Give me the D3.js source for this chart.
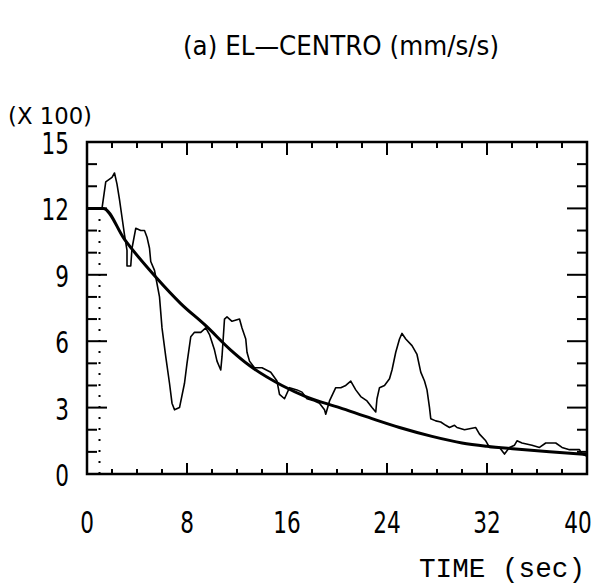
<!DOCTYPE html>
<html>
<head>
<meta charset="utf-8">
<script src="https://cdnjs.cloudflare.com/ajax/libs/d3/7.8.5/d3.min.js"></script>
<style>
body { margin: 0; background: #fff; }
</style>
</head>
<body>
<div id="chart"></div>
<script>
// data (x 100 mm/s/s vs time in sec)

// jagged response record
var respTime = [1.2, 1.5, 2.0, 2.2, 2.4, 2.6, 2.8, 3.0, 3.2, 3.2, 3.5, 3.6, 3.9, 4.3, 4.6, 4.8, 5.0, 5.1, 5.4, 5.5,
  5.8, 6.0, 6.3, 6.6, 6.8, 7.0, 7.4, 7.8, 8.0, 8.3, 8.6, 9.1, 9.5, 9.8, 10.2, 10.4, 10.7, 10.8, 11.0, 11.2,
  11.6, 12.2, 12.4, 12.7, 12.8, 13.0, 13.4, 14.0, 14.7, 15.2, 15.4, 15.8, 16.2, 16.8, 17.2, 17.6, 18.2, 18.6, 19.0, 19.1,
  19.4, 19.9, 20.3, 20.7, 21.1, 21.5, 21.9, 22.4, 22.8, 23.1, 23.2, 23.4, 23.8, 24.2, 24.4, 24.7, 25.0, 25.2, 25.5, 26.0,
  26.4, 26.7, 27.0, 27.2, 27.4, 27.5, 27.9, 28.3, 28.7, 29.0, 29.4, 29.6, 30.2, 31.1, 31.4, 31.9, 32.2, 33.0, 33.4, 33.8,
  34.2, 34.4, 34.8, 35.6, 36.2, 36.7, 37.5, 38.0, 38.6, 39.4, 39.6, 40.0];
var respVal = [12.0, 13.2, 13.4, 13.6, 13.1, 12.4, 11.6, 10.8, 10.1, 9.4, 9.4, 10.2, 11.1, 11.0, 11.0, 10.7, 10.2, 9.6, 9.2, 8.9,
  8.0, 6.6, 5.3, 4.1, 3.2, 2.9, 3.0, 4.1, 5.0, 6.2, 6.4, 6.4, 6.6, 6.3, 5.6, 5.1, 4.7, 5.3, 7.0, 7.1,
  6.9, 7.0, 6.6, 6.1, 5.5, 5.1, 4.8, 4.8, 4.6, 4.2, 3.6, 3.4, 3.9, 3.8, 3.7, 3.4, 3.3, 3.2, 2.9, 2.7,
  3.3, 3.9, 3.9, 4.0, 4.2, 3.8, 3.5, 3.3, 3.0, 2.8, 3.4, 3.9, 4.0, 4.3, 4.7, 5.5, 6.1, 6.35, 6.1, 5.8,
  5.4, 4.6, 4.2, 3.8, 3.0, 2.5, 2.4, 2.35, 2.2, 2.1, 2.2, 2.1, 2.0, 2.1, 1.8, 1.5, 1.2, 1.2, 0.9, 1.2,
  1.3, 1.5, 1.4, 1.3, 1.2, 1.4, 1.4, 1.2, 1.1, 1.1, 0.9, 0.8];

// smooth decay curve
var fitTime = [0, 1.3, 3.0, 5.5, 7.5, 9.5, 11.5, 13.0, 15.6, 17.5, 20.2, 22.8, 25.0, 27.6, 30.0, 32.0, 34.3, 37.0, 40.0];
var fitVal = [12.0, 12.0, 10.6, 8.9, 7.7, 6.7, 5.6, 4.9, 4.0, 3.5, 3.0, 2.5, 2.1, 1.7, 1.4, 1.25, 1.13, 1.0, 0.88];

// dotted rise at the start of the record
var riseTime = [1.0, 1.0];
var riseVal = [0, 12.0];

var xTicks = [0, 8, 16, 24, 32, 40];
var yTicks = [0, 3, 6, 9, 12, 15];

// layout
var W = 596, H = 586;
var LEFT = 87, RIGHT = 587, TOP = 142, BOTTOM = 474;
var NUMFONT = "'DejaVu Sans', sans-serif";

var x = d3.scaleLinear().domain([0, 40]).range([LEFT, RIGHT]);
var y = d3.scaleLinear().domain([0, 15]).range([BOTTOM, TOP]);

var svg = d3.select("#chart").append("svg")
  .attr("width", W)
  .attr("height", H)
  .style("display", "block")
  .style("background", "#fff");

// title
svg.append("text")
  .attr("x", 341)
  .attr("y", 55)
  .attr("text-anchor", "middle")
  .attr("textLength", 316)
  .attr("lengthAdjust", "spacingAndGlyphs")
  .style("font-family", NUMFONT)
  .style("font-size", "27px")
  .style("fill", "#000")
  .text("(a) EL\u2014CENTRO (mm/s/s)");

// y multiplier
svg.append("text")
  .attr("x", 8)
  .attr("y", 124)
  .attr("textLength", 84)
  .attr("lengthAdjust", "spacingAndGlyphs")
  .style("font-family", NUMFONT)
  .style("font-size", "23px")
  .text("(X 100)");

// frame
svg.append("rect")
  .attr("x", LEFT)
  .attr("y", TOP)
  .attr("width", RIGHT - LEFT)
  .attr("height", BOTTOM - TOP)
  .style("fill", "none")
  .style("stroke", "#000")
  .style("stroke-width", 2.5);

// tick marks, inside the frame on all four sides
var ticks = svg.append("g").style("stroke", "#000").style("stroke-width", 2);

d3.range(0, 41, 2).forEach(function(t){
  var major = (t % 8 == 0);
  ticks.append("line")
    .attr("x1", x(t)).attr("x2", x(t))
    .attr("y1", BOTTOM).attr("y2", BOTTOM - (major ? 11 : 5));
  ticks.append("line")
    .attr("x1", x(t)).attr("x2", x(t))
    .attr("y1", TOP).attr("y2", TOP + (major ? 13 : 6));
});

d3.range(0, 16, 1).forEach(function(v){
  var major = (v % 3 == 0);
  ticks.append("line")
    .attr("x1", LEFT).attr("x2", LEFT + (major ? 20 : 10))
    .attr("y1", y(v)).attr("y2", y(v));
  ticks.append("line")
    .attr("x1", RIGHT).attr("x2", RIGHT - (major ? 20 : 10))
    .attr("y1", y(v)).attr("y2", y(v));
});

// tick labels
svg.append("g").selectAll("text")
  .data(yTicks)
  .enter().append("text")
  .attr("transform", function(d){ return "translate(69," + (y(d) + 12) + ") scale(0.72,1)"; })
  .attr("text-anchor", "end")
  .style("font-family", NUMFONT)
  .style("font-size", "30px")
  .text(function(d){ return d; });

svg.append("g").selectAll("text")
  .data(xTicks)
  .enter().append("text")
  .attr("transform", function(d){ return "translate(" + Math.min(x(d), 578) + ",533) scale(0.72,1)"; })
  .attr("text-anchor", "middle")
  .style("font-family", NUMFONT)
  .style("font-size", "30px")
  .text(function(d){ return d; });

// axis title
svg.append("text")
  .attr("x", 585)
  .attr("y", 577)
  .attr("text-anchor", "end")
  .attr("textLength", 166)
  .attr("lengthAdjust", "spacingAndGlyphs")
  .style("font-family", "'Liberation Mono', monospace")
  .style("font-size", "27px")
  .text("TIME (sec)");

// curves
var line = d3.line()
  .x(function(d){ return x(d[0]); })
  .y(function(d){ return y(d[1]); });

var fit = fitTime.map(function(t, i){ return [t, fitVal[i]]; });
var resp = respTime.map(function(t, i){ return [t, respVal[i]]; });
var rise = riseTime.map(function(t, i){ return [t, riseVal[i]]; });

svg.append("path")
  .datum(fit)
  .attr("d", line.curve(d3.curveMonotoneX))
  .style("fill", "none")
  .style("stroke", "#000")
  .style("stroke-width", 3);

svg.append("path")
  .datum(resp)
  .attr("d", line.curve(d3.curveLinear))
  .style("fill", "none")
  .style("stroke", "#000")
  .style("stroke-width", 1.6)
  .style("stroke-linejoin", "round");

svg.append("path")
  .datum(rise)
  .attr("d", line)
  .style("fill", "none")
  .style("stroke", "#000")
  .style("stroke-width", 2)
  .style("stroke-dasharray", "2,9");
</script>
</body>
</html>
